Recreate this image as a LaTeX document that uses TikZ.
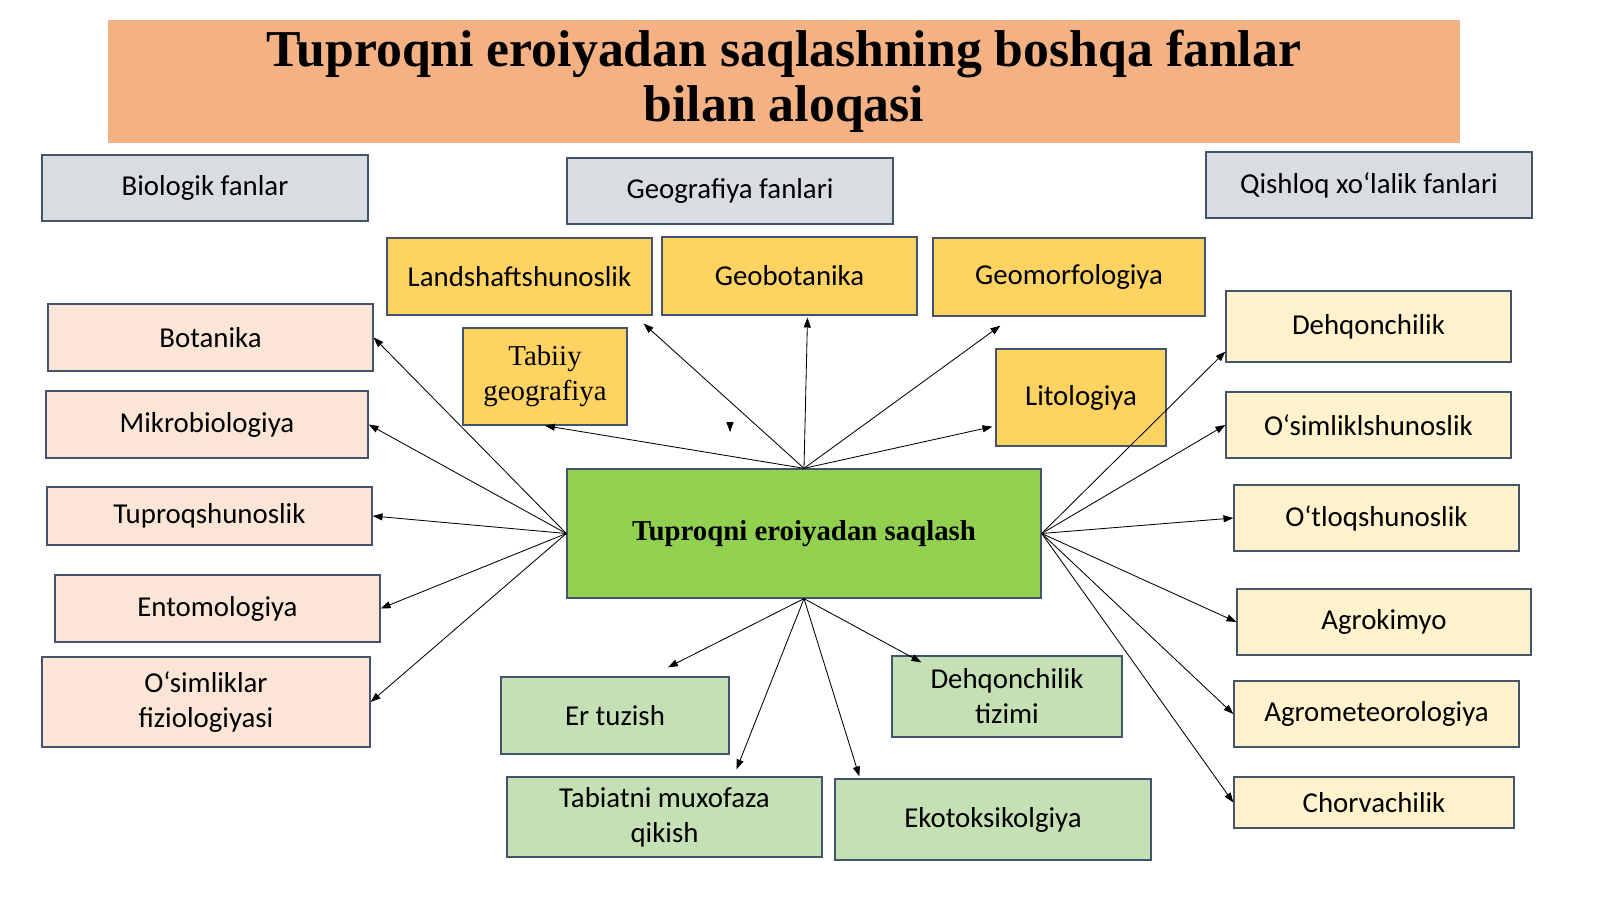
\documentclass[tikz,border=0pt]{standalone}
\usepackage{fontspec}
\setmainfont{Carlito}
\newfontfamily\timesfont{Liberation Serif}
\usepackage{tikz}
\usetikzlibrary{arrows.meta}
\usetikzlibrary{positioning}
\usetikzlibrary{calc}
\definecolor{titlefill}{RGB}{244,177,131}
\definecolor{grayfill}{RGB}{217,220,224}
\definecolor{goldfill}{RGB}{254,211,98}
\definecolor{centerfill}{RGB}{146,208,80}
\definecolor{pinkfill}{RGB}{251,229,214}
\definecolor{creamfill}{RGB}{255,242,204}
\definecolor{mintfill}{RGB}{197,224,180}
\definecolor{boxline}{RGB}{68,84,106}
\tikzstyle{box}=[draw=boxline,line width=0.9pt,rectangle,inner sep=2pt,align=center,font=\fontsize{20.5}{25}\selectfont]
\tikzstyle{groupbox}=[box,fill=grayfill]
\tikzstyle{geobox}=[box,fill=goldfill]
\tikzstyle{biobox}=[box,fill=pinkfill]
\tikzstyle{agrobox}=[box,fill=creamfill]
\tikzstyle{landbox}=[box,fill=mintfill]
\tikzstyle{link}=[line width=0.6pt,-{Triangle[length=7pt,width=5pt]}]

\begin{document}
\begin{tikzpicture}[x=0.025cm,y=-0.025cm]
\useasboundingbox[fill=white] (0,0) rectangle (1600,899);

\node [fill=titlefill,minimum width=33.8cm,minimum height=3.075cm,align=center,
  font=\timesfont\bfseries\fontsize{36.8}{39}\selectfont] (title) at (784,81.5)
  {Tuproqni eroiyadan saqlashning boshqa fanlar\\bilan aloqasi};

\node [groupbox,minimum width=8.15cm,minimum height=1.65cm] (bio) at (205,188) {Biologik fanlar};
\node [groupbox,minimum width=8.15cm,minimum height=1.65cm] (geo) at (730,191) {Geografiya fanlari};
\node [groupbox,minimum width=8.15cm,minimum height=1.65cm] (qish) at (1369,185) {Qishloq xo‘lalik fanlari};

\node [geobox,minimum width=6.625cm,minimum height=1.925cm] (lands) at (519.5,276.5) {Landshaftshunoslik};
\node [geobox,minimum width=6.375cm,minimum height=1.95cm] (geob) at (789.5,276) {Geobotanika};
\node [geobox,minimum width=6.8cm,minimum height=1.95cm] (geom) at (1069,277) {Geomorfologiya};
\node [geobox,minimum width=4.1cm,minimum height=2.425cm,font=\timesfont\fontsize{20.5}{25}\selectfont] (tabiiy) at (545,376.5) {Tabiiy\\geografiya};
\node [geobox,minimum width=4.25cm,minimum height=2.425cm] (lito) at (1081,397.5) {Litologiya};

\node [box,fill=centerfill,minimum width=11.85cm,minimum height=3.225cm,
  font=\timesfont\bfseries\fontsize{20.5}{25}\selectfont] (ctr) at (804,533.5) {Tuproqni eroiyadan saqlash};

\node [biobox,minimum width=8.125cm,minimum height=1.675cm] (bot) at (210.5,337.5) {Botanika};
\node [biobox,minimum width=8.05cm,minimum height=1.675cm] (mikro) at (207,424.5) {Mikrobiologiya};
\node [biobox,minimum width=8.125cm,minimum height=1.45cm] (tup) at (209.5,516) {Tuproqshunoslik};
\node [biobox,minimum width=8.125cm,minimum height=1.675cm] (ento) at (217.5,608.5) {Entomologiya};
\node [biobox,minimum width=8.2cm,minimum height=2.25cm] (fizio) at (206,702) {O‘simliklar\\fiziologiyasi};

\node [agrobox,minimum width=7.125cm,minimum height=1.775cm] (dehq) at (1368.5,326.5) {Dehqonchilik};
\node [agrobox,minimum width=7.125cm,minimum height=1.65cm] (osim) at (1368.5,425) {O‘simliklshunoslik};
\node [agrobox,minimum width=7.125cm,minimum height=1.65cm] (otloq) at (1376.5,518) {O‘tloqshunoslik};
\node [agrobox,minimum width=7.35cm,minimum height=1.65cm] (agrok) at (1384,622) {Agrokimyo};
\node [agrobox,minimum width=7.125cm,minimum height=1.65cm] (agrom) at (1376.5,714) {Agrometeorologiya};
\node [agrobox,minimum width=7cm,minimum height=1.275cm] (chorv) at (1374,802.5) {Chorvachilik};

\node [landbox,minimum width=5.7cm,minimum height=1.925cm] (er) at (615,715.5) {Er tuzish};
\node [landbox,minimum width=5.75cm,minimum height=2.025cm] (tiz) at (1007,696.5) {Dehqonchilik\\tizimi};
\node [landbox,minimum width=7.875cm,minimum height=2cm] (tab) at (664.5,817) {Tabiatni muxofaza\\qikish};
\node [landbox,minimum width=7.9cm,minimum height=2.025cm] (eko) at (993,819.5) {Ekotoksikolgiya};

\draw [link] (ctr.north) -- ($(lands.south east)+(-9,8)$);
\draw [link] (ctr.north) -- ($(geob.south)+(18,2)$);
\draw [link] (ctr.north) -- ($(geom.south west)+(68,9)$);
\draw [link] (ctr.north) -- (tabiiy.south);
\draw [link] (ctr.north) -- ($(lito.south west)+(-3,-20)$);
\coordinate (stray) at (730,431);
\draw [link] (stray) -- ++(0,1);

\draw [link] (ctr.west) -- (bot.east);
\draw [link] (ctr.west) -- (mikro.east);
\draw [link] (ctr.west) -- (tup.east);
\draw [link] (ctr.west) -- (ento.east);
\draw [link] (ctr.west) -- (fizio.east);

\draw [link] (ctr.east) -- ($(dehq.south west)+(0,-11)$);
\draw [link] (ctr.east) -- (osim.west);
\draw [link] (ctr.east) -- (otloq.west);
\draw [link] (ctr.east) -- (agrok.west);
\draw [link] (ctr.east) -- (agrom.west);
\draw [link] (ctr.east) -- (chorv.west);

\draw [link] (ctr.south) -- ($(er.north)+(53,-9)$);
\draw [link] (ctr.south) -- ($(tab.north)+(72,-7)$);
\draw [link] (ctr.south) -- ($(eko.north west)+(25,-2)$);
\draw [link] (ctr.south) -- ($(tiz.north west)+(30,7)$);
\end{tikzpicture}
\end{document}
